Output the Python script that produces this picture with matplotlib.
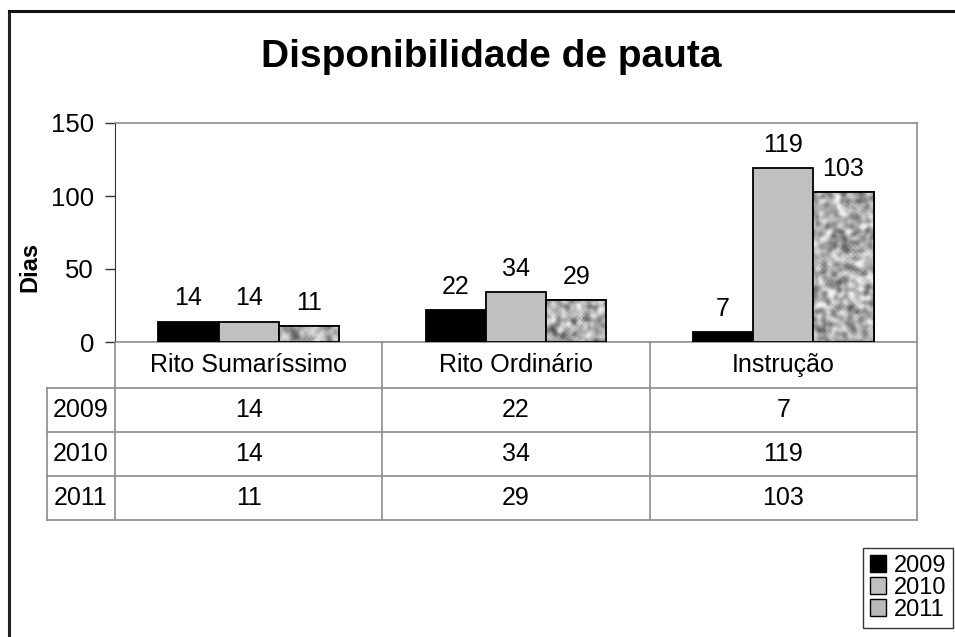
import matplotlib.pyplot as plt
import numpy as np
from matplotlib.lines import Line2D
from matplotlib.patches import Patch
from matplotlib.transforms import blended_transform_factory

plt.rcParams['font.family'] = ['Liberation Sans', 'DejaVu Sans']

categorias = ['Rito Sumaríssimo', 'Rito Ordinário', 'Instrução']
anos = ['2009', '2010', '2011']
v2009 = [14, 22, 7]
v2010 = [14, 34, 119]
v2011 = [11, 29, 103]
series = [v2009, v2010, v2011]

fig = plt.figure(figsize=(9.55, 6.37), dpi=100)
ax = fig.add_axes([115/955, 1-342/637, 802/955, 219/637])

x = np.arange(len(categorias))
w = 0.225
cores = ['black', '#c0c0c0', '#a6a6a6']

# textura "granito" para 2011 (so visual)
rng = np.random.default_rng(7)
px_por_dia = 219 / 150


def granito(h_px, w_px):
    r = rng.random((max(int(h_px / 2), 4), int(w_px / 2)))
    for _ in range(2):
        r = (r + np.roll(r, 1, 0) + np.roll(r, -1, 0)
             + np.roll(r, 1, 1) + np.roll(r, -1, 1)) / 5
    r = (r - r.mean()) / r.std()
    g = np.clip(0.68 + 0.12 * r, 0.3, 0.95)
    return np.dstack([g, g, g])


for i, vals in enumerate(series):
    pos = x + (i - 1) * w
    barras = ax.bar(pos, vals, w, color=cores[i], edgecolor='black', lw=1.3, zorder=3)
    if i == 2:
        for b in barras:
            im = ax.imshow(granito(b.get_height() * px_por_dia, 60), aspect='auto',
                           extent=[b.get_x(), b.get_x()+b.get_width(), 0, b.get_height()],
                           zorder=3.5, interpolation='bilinear')
            im.set_clip_path(b)
            ax.add_patch(plt.Rectangle((b.get_x(), 0), b.get_width(), b.get_height(),
                                       fill=False, ec='black', lw=1.3, zorder=4))
    for b, v in zip(barras, vals):
        ax.annotate(str(v), (b.get_x()+b.get_width()/2, v), xytext=(0, 8),
                    textcoords='offset points', ha='center', va='bottom', fontsize=18)

ax.set_xlim(-0.5, 2.5)
ax.set_ylim(0, 150)
ax.set_yticks([0, 50, 100, 150])
ax.tick_params(axis='y', labelsize=18.5, direction='out', length=7, width=1, color='#333', pad=8)
ax.set_xticks([])
for s in ['top', 'right', 'bottom']:
    ax.spines[s].set_color('#8c8c8c')
    ax.spines[s].set_linewidth(1.2)
ax.spines['left'].set_color('#333333')

fig.text(30/955, 1-267/637, 'Dias', rotation=90, ha='center', va='center',
         fontsize=17, fontweight='bold')

# tabela de dados (x em dados, y em eixos)
tr = blended_transform_factory(ax.transData, ax.transAxes)
xl = -0.5 - 68/267
linhas_y = [0, -46/219, -90/219, -134/219, -178/219]
kw = dict(color='#8c8c8c', lw=1.2, transform=tr, clip_on=False)
for xv in [-0.5, 0.5, 1.5, 2.5]:
    ax.add_line(Line2D([xv, xv], [0, linhas_y[-1]], **kw))
ax.add_line(Line2D([xl, xl], [linhas_y[1], linhas_y[-1]], **kw))
for yv in linhas_y[1:]:
    ax.add_line(Line2D([xl, 2.5], [yv, yv], **kw))

yc = [(linhas_y[k] + linhas_y[k+1]) / 2 for k in range(4)]
for j, cat in enumerate(categorias):
    ax.text(x[j], yc[0], cat, transform=tr, ha='center', va='center', fontsize=18)
for i, vals in enumerate(series):
    ax.text((xl - 0.5) / 2, yc[i+1], anos[i], transform=tr, ha='center', va='center', fontsize=18)
    for j, v in enumerate(vals):
        ax.text(x[j], yc[i+1], str(v), transform=tr, ha='center', va='center', fontsize=18)

fig.text(491/955, 1-57/637, 'Disponibilidade de pauta', ha='center', va='center',
         fontsize=28, fontweight='bold')

# moldura externa
fig.add_artist(Line2D([9/955, 9/955], [0, 1-11/637], color='#222', lw=2.2))
fig.add_artist(Line2D([9/955, 1], [1-11/637, 1-11/637], color='#111', lw=2.2))

handles = [Patch(facecolor=c, edgecolor='black') for c in ['black', '#c0c0c0', '#b8b8b8']]
leg = fig.legend(handles, anos, loc='lower right', bbox_to_anchor=(953/955, 1-628/637),
                 fontsize=17, frameon=True, fancybox=False, edgecolor='black',
                 handlelength=0.7, handleheight=0.7, handletextpad=0.3, labelspacing=0.0,
                 borderpad=0.3, borderaxespad=0)
leg.get_frame().set_linewidth(1.0)

fig.savefig('out.png', dpi=100)
